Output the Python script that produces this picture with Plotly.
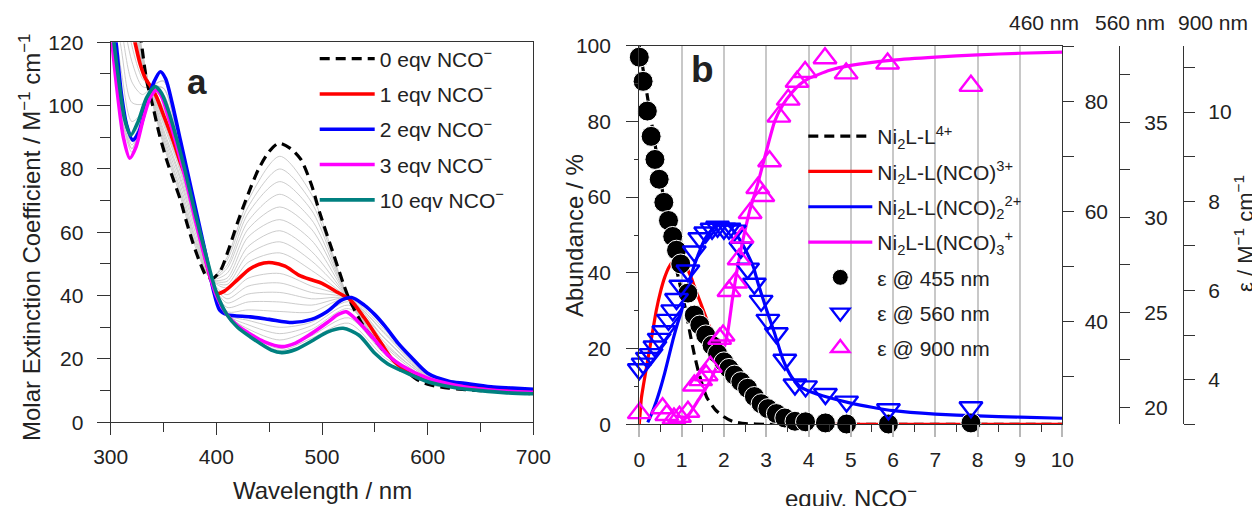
import plotly.graph_objects as go

W, H = 1252, 506
FONT = "Liberation Sans, Arial, sans-serif"

# ---------------- Panel a data: molar extinction spectra (wavelength nm, epsilon) ----------------
SPEC_0EQ = [(326, 128), (329, 120), (334, 108), (340, 99.7), (346, 91), (353, 82.8), (360, 76), (366, 70.2),
            (372, 63), (378, 56.5), (385, 50), (391, 46), (397, 45.5), (404, 48), (411, 54), (420, 63),
            (430, 72), (440, 80), (450, 85.5), (459, 88.1), (470, 86.5), (480, 83), (490, 75), (498, 66),
            (510, 54), (520, 44), (525, 39.5), (530, 36), (540, 30), (550, 26), (560, 22), (575, 17.5),
            (590, 13.5), (600, 12), (620, 10.8), (650, 10), (680, 9.5), (700, 9)]
SPEC_1EQ = [(318, 128), (323, 120), (328, 113), (333, 108.5), (338, 106), (343, 103), (350, 97), (359, 89),
            (366, 82), (372, 76.5), (380, 66), (388, 54), (395, 45), (401, 40.7), (408, 41.5), (420, 45),
            (432, 48.5), (445, 50.3), (453, 50.4), (465, 49.3), (478, 46.5), (490, 45), (500, 43.9),
            (515, 41), (527, 38.6), (540, 33), (555, 25.5), (567, 19.7), (585, 15), (601, 13.4),
            (625, 11.8), (650, 11), (675, 10.2), (700, 9.5)]
SPEC_2EQ = [(300, 133), (305, 120), (310, 104), (315, 94), (321, 89.1), (327, 92), (334, 100.5), (341, 107.5),
            (347, 110.7), (352, 108.5), (358, 101), (366, 89), (374, 77), (382, 65), (390, 53), (397, 42),
            (403, 35.5), (410, 34), (432, 33.3), (450, 32.5), (472, 31.5), (490, 32.5), (505, 35), (518, 38.5),
            (528, 39.4), (540, 37), (550, 34), (560, 30.2), (572, 25), (584, 20.7), (600, 15.5), (620, 13),
            (635, 12.3), (660, 11.2), (680, 10.8), (700, 10.4)]
SPEC_3EQ = [(300, 124), (306, 105), (312, 90), (318, 83.4), (324, 87), (331, 96), (338, 103), (343.5, 104.9),
            (348, 103), (355, 96), (362, 88), (370, 78), (380, 64), (390, 51), (400, 40), (410, 34),
            (420, 30.5), (430, 28.3), (445, 25.5), (462, 23.9), (475, 25), (490, 28), (505, 31.5), (515, 34),
            (523, 34.9), (535, 31.5), (550, 26), (563, 21), (575, 18), (600, 13.9), (625, 11.8), (650, 10.5),
            (675, 9.8), (700, 9.5)]
SPEC_10EQ = [(300, 128), (303, 120), (308, 107), (313, 96), (319, 90.7), (326, 95), (334, 102.5), (342, 106),
             (348, 104), (355, 98), (362, 90), (370, 80), (380, 66), (390, 53), (400, 41), (410, 34), (420, 30),
             (432, 27), (452, 22.8), (462, 22), (475, 23), (492, 26), (505, 28.5), (520, 29.7), (535, 27.5),
             (550, 21.8), (562, 18.5), (574, 16.5), (600, 12.8), (625, 11), (650, 10), (675, 9.3), (700, 9)]

# intermediate titration spectra (thin grey), read on a common wavelength grid
GRAY_WL = [300, 310, 320, 330, 340, 350, 365, 380, 395, 410, 430, 460, 490, 525, 560, 600, 650, 700]
GRAY_SPECTRA = [
    [169, 154, 137, 117, 100.2, 87.5, 72.3, 55.5, 45.5, 52, 70, 84, 72, 39.4, 22, 12.2, 10.1, 9.1],
    [168, 153, 136, 116.5, 100.8, 88.5, 73.5, 56.5, 45.5, 51, 68, 80, 69.5, 39.3, 22, 12.3, 10.2, 9.1],
    [167, 152, 134, 116, 101.3, 89.5, 74.5, 57.5, 45.5, 49.5, 66, 76, 67, 39.2, 22.1, 12.5, 10.3, 9.2],
    [166, 151, 133, 115, 101.8, 90.5, 76, 58.5, 45.3, 48.5, 63.5, 72, 64, 39.1, 22.1, 12.6, 10.4, 9.2],
    [165, 150, 132, 114.5, 102.3, 91.5, 77.5, 60, 45.3, 47, 61, 68, 61, 39.1, 22.2, 12.8, 10.5, 9.3],
    [164, 149, 130, 113.5, 102.8, 92.5, 78.5, 61.5, 45.2, 45.5, 58.5, 64, 57.5, 39, 22.3, 13, 10.6, 9.3],
    [163, 148, 129, 113, 103.3, 94, 80, 62.5, 45.2, 44.5, 55.5, 60.5, 54, 38.9, 22.3, 13.1, 10.7, 9.4],
    [162, 147, 127, 112, 103.8, 95, 81, 63.5, 45.1, 43.5, 53, 57, 51, 38.9, 22.4, 13.3, 10.8, 9.4],
    [161, 146, 126, 111.5, 104.3, 96, 82, 65, 45.1, 42.5, 50.5, 53.5, 48, 38.8, 22.4, 13.4, 10.9, 9.5],
    [155, 138, 119, 108.5, 105.3, 99, 84.5, 66.3, 45, 40.3, 45.5, 47, 43, 38.9, 23.8, 13.9, 11.1, 9.6],
    [151, 131, 114, 106, 105.5, 101, 85.5, 66.7, 45, 39, 43, 44, 41, 39, 25, 14.3, 11.2, 9.7],
    [147, 125, 107.5, 103.5, 105.8, 103.5, 86.5, 67, 45, 37.7, 40.5, 41, 39, 39, 26.3, 14.5, 11.3, 9.9],
    [142, 118, 101, 100.5, 106, 105.5, 88, 67.3, 45, 36.3, 38, 38, 37, 39.1, 27.7, 14.9, 11.4, 10.1],
    [137, 111, 95, 98, 106.3, 107.7, 89.3, 67.7, 45, 35, 35.5, 35, 34.8, 39.2, 29, 15.2, 11.5, 10.3],
    [131, 101.5, 87.6, 95.2, 105.8, 107.8, 88.5, 67, 45.1, 34, 32.2, 30, 31.6, 38.1, 28.2, 15.1, 11.3, 10.2],
    [128.5, 99.5, 86.5, 95, 105.2, 105.5, 87, 66, 45.3, 34, 30.8, 28, 30.5, 37, 26.3, 14.7, 11, 10],
    [126, 97, 85.3, 94.8, 104.6, 103.5, 85.8, 65, 45.4, 34, 29.5, 26, 29.3, 35.9, 24.3, 14.3, 10.8, 9.8],
    [125.3, 97.7, 86.3, 95.8, 104.5, 101.8, 85.2, 64.7, 46, 34, 28, 23.3, 27.3, 33, 21.3, 13.5, 10.3, 9.3],
    [126.7, 100.3, 88.7, 97.2, 105, 102.2, 85.8, 65.3, 46.5, 34, 27.7, 22.7, 26.5, 31.3, 20.3, 13.2, 10.2, 9.2],
]

SPEC_NAMES = ["0 eqv NCO<sup>−</sup>", "1 eqv NCO<sup>−</sup>", "2 eqv NCO<sup>−</sup>",
              "3 eqv NCO<sup>−</sup>", "10 eqv NCO<sup>−</sup>"]

# ---------------- Panel b data ----------------
# species distribution (abundance %) vs equivalents of NCO-
X_S0 = [0, 0.2, 0.4, 0.6, 0.8, 1.0, 1.1, 1.2, 1.3, 1.4, 1.5, 1.6, 1.8, 2.0, 2.2, 2.5, 3.0, 4.0, 6.0, 10.0]
S0 = [100, 86, 72, 58, 45, 35, 30, 24, 18.5, 13.8, 10, 7, 3.8, 2, 0.8, 0.2, 0, 0, 0, 0]
X_S1 = [0, 0.05, 0.1, 0.2, 0.3, 0.4, 0.5, 0.6, 0.7, 0.8, 0.9, 1.0, 1.1, 1.2, 1.3, 1.4, 1.5, 1.6, 1.8, 2.0,
        2.2, 2.5, 2.8, 3.0, 3.5, 4.0, 5.0, 6.0, 8.0, 10.0]
S1 = [0, 7, 10.5, 17, 23.5, 30, 35, 38.8, 41.5, 43, 43.5, 43.2, 41.8, 39.5, 36.5, 33.5, 30.5, 27.5, 22, 18,
      14, 9.5, 6, 4, 1.5, 0.5, 0, 0, 0, 0]
X_S2 = [0.2, 0.3, 0.4, 0.5, 0.6, 0.7, 0.8, 0.9, 1.0, 1.1, 1.2, 1.3, 1.4, 1.5, 1.6, 1.7, 1.8, 1.9, 2.0, 2.1,
        2.2, 2.3, 2.4, 2.5, 2.6, 2.7, 2.8, 2.9, 3.0, 3.2, 3.4, 3.6, 3.8, 4.0, 4.5, 5.0, 5.5, 6.0, 7.0, 8.0,
        9.0, 10.0]
S2 = [0.5, 3, 6, 9.5, 13.5, 18, 22.5, 26.5, 30, 35, 38.5, 42, 45, 47.8, 49.8, 51.2, 52.2, 52.8, 53, 52.6,
      51.5, 50, 48.3, 46.3, 44, 41.5, 37.5, 34, 30.5, 24, 17, 12.5, 10, 8.8, 7, 5.6, 4.5, 3.6, 2.7, 2.2,
      1.9, 1.6]
X_S3 = [1.0, 1.2, 1.4, 1.6, 1.8, 2.0, 2.1, 2.2, 2.3, 2.4, 2.6, 2.8, 3.0, 3.2, 3.4, 3.6, 3.8, 4.0, 4.5, 5.0,
        6.0, 7.0, 8.0, 9.0, 10.0]
S3 = [0.5, 3, 6.5, 10, 14.5, 20, 25, 33, 40, 46, 56, 63.5, 72, 80, 84.5, 87.5, 89.8, 91.3, 93.5, 94.8,
      96.2, 97, 97.6, 98, 98.3]
SPECIES_NAMES = ["Ni<sub>2</sub>L-L<sup>4+</sup>", "Ni<sub>2</sub>L-L(NCO)<sup>3+</sup>",
                 "Ni<sub>2</sub>L-L(NCO)<sub>2</sub><sup>2+</sup>", "Ni<sub>2</sub>L-L(NCO)<sub>3</sub><sup>+</sup>"]

# measured epsilon values at three wavelengths
EQUIV = [0, 0.09, 0.19, 0.28, 0.37, 0.47, 0.58, 0.69, 0.79, 0.88, 0.98, 1.15, 1.3, 1.43, 1.57, 1.72, 1.85,
         2.0, 2.12, 2.25, 2.4, 2.56, 2.72, 2.88, 3.04, 3.24, 3.44, 3.68, 3.93, 4.4, 4.9, 5.89, 7.84]
EPS_455 = [88.1, 83.7, 78.3, 73.7, 69.5, 65.9, 61.7, 58.4, 55.5, 53.0, 50.5, 45.2, 41.2, 39.4, 37.6, 35.7,
           34.2, 32.7, 31.5, 30.3, 29.1, 27.9, 26.4, 25.1, 24.2, 23.3, 22.5, 21.9, 21.8, 21.6, 21.4, 21.4, 21.6]
EPS_560 = [22.0, 22.3, 22.6, 22.8, 23.2, 23.6, 24.0, 24.6, 25.1, 25.7, 26.4, 27.2, 28.2, 28.9, 29.2, 29.4,
           29.5, 29.4, 29.4, 29.3, 28.4, 27.3, 26.5, 25.6, 24.6, 23.9, 22.5, 21.2, 21.1, 20.7, 20.3, 19.9, 20.0]
EQUIV_900 = [0.0, 0.55, 0.65, 0.82, 0.95, 1.15, 1.3, 1.45, 1.58, 1.68, 1.9, 1.98, 2.12, 2.28, 2.36, 2.43,
             2.62, 2.8, 2.92, 3.08, 3.3, 3.52, 3.73, 3.92, 4.39, 4.89, 5.87, 7.84]
EPS_900 = [3.25, 3.36, 3.21, 3.13, 3.17, 3.28, 3.87, 3.99, 4.10, 4.29, 4.92, 4.99, 5.99, 6.18, 6.70, 7.19,
           7.74, 8.30, 8.12, 8.90, 9.90, 10.28, 10.68, 10.90, 11.21, 10.87, 11.09, 10.59]
EPS_NAMES = ["ε @ 455 nm", "ε @ 560 nm", "ε @ 900 nm"]
RIGHT_AXIS_LABELS = ["460 nm", "560 nm", "900 nm"]

# ---------------- layout geometry (pixels) ----------------
A_L, A_R, A_T, A_B = 110.7, 533.3, 42.3, 422.3
B_L, B_R, B_T, B_B = 639.3, 1062.3, 45.7, 424.3
AX560_X, AX900_X = 1119.0, 1183.0

def fx(p):
    return p / W

def fy(p):
    return 1 - p / H

AXC = "#333333"
TXT = "#222222"

fig = go.Figure()

# ---- panel a traces ----
for spec in GRAY_SPECTRA:
    fig.add_trace(go.Scatter(x=GRAY_WL, y=spec, mode="lines", xaxis="x", yaxis="y",
                             line=dict(color="#c6c6c6", width=0.9, shape="spline", smoothing=0.8),
                             showlegend=False, hoverinfo="skip"))

spec_list = [SPEC_0EQ, SPEC_1EQ, SPEC_2EQ, SPEC_3EQ, SPEC_10EQ]
spec_colors = ["#000000", "#ff0000", "#0000ff", "#ff00ff", "#008080"]
for i, (spec, name, col) in enumerate(zip(spec_list, SPEC_NAMES, spec_colors)):
    wl = [p[0] for p in spec]
    ev = [p[1] for p in spec]
    fig.add_trace(go.Scatter(
        x=wl, y=ev, mode="lines", name=name, xaxis="x", yaxis="y", legend="legend",
        legendgroup="a%d" % i,
        line=dict(color=col, width=3.2 if i == 0 else 3.6, dash="10px,6px" if i == 0 else "solid",
                  shape="spline", smoothing=0.8)))

# ---- panel b traces ----
species = [(X_S0, S0, "#000000", "10px,6px"), (X_S1, S1, "#ff0000", "solid"),
           (X_S2, S2, "#0000ff", "solid"), (X_S3, S3, "#ff00ff", "solid")]
for i, ((xs, ys, col, dash), name) in enumerate(zip(species, SPECIES_NAMES)):
    fig.add_trace(go.Scatter(
        x=xs, y=ys, mode="lines", name=name, xaxis="x2", yaxis="y2", legend="legend2",
        legendgroup="b%d" % i,
        line=dict(color=col, width=3.2, dash=dash, shape="spline", smoothing=0.5)))

fig.add_trace(go.Scatter(
    x=EQUIV, y=EPS_455, mode="markers", name=EPS_NAMES[0], xaxis="x2", yaxis="y3", legend="legend2",
    legendgroup="b4", cliponaxis=False,
    marker=dict(symbol="circle", size=20, color="#000000", line=dict(color="white", width=1))))
fig.add_trace(go.Scatter(
    x=EQUIV, y=EPS_560, mode="markers", name=EPS_NAMES[1], xaxis="x2", yaxis="y4", legend="legend2",
    legendgroup="b5", cliponaxis=False,
    marker=dict(symbol="triangle-down-open", size=20, color="#0000ff", line=dict(color="#0000ff", width=2.4))))
fig.add_trace(go.Scatter(
    x=EQUIV_900, y=EPS_900, mode="markers", name=EPS_NAMES[2], xaxis="x2", yaxis="y5", legend="legend2",
    legendgroup="b6", cliponaxis=False,
    marker=dict(symbol="triangle-up-open", size=20, color="#ff00ff", line=dict(color="#ff00ff", width=2.4))))

tickfont = dict(family=FONT, size=21, color=TXT)

common = dict(showline=True, linecolor=AXC, linewidth=1.3, ticks="outside", tickcolor=AXC, tickwidth=1.3,
              zeroline=False, tickfont=tickfont, automargin=False, fixedrange=True)

def minor(dt, ln):
    return dict(dtick=dt, ticklen=ln, ticks="outside", tickcolor=AXC, tickwidth=1.3, showgrid=False)

fig.update_layout(
    width=W, height=H, margin=dict(l=0, r=0, t=0, b=0, pad=0),
    paper_bgcolor="white", plot_bgcolor="rgba(0,0,0,0)",
    font=dict(family=FONT, size=21, color=TXT), hovermode=False,
    xaxis=dict(domain=[fx(A_L), fx(A_R)], range=[300, 700], anchor="y", mirror=True, showgrid=False,
               tick0=300, dtick=100, ticklen=12, ticklabelstandoff=3, minor=minor(50, 9), **common),
    yaxis=dict(domain=[fy(A_B), fy(A_T)], range=[0, 120], anchor="x", mirror=True, showgrid=False,
               tick0=0, dtick=20, ticklen=13, ticklabelstandoff=9, minor=minor(10, 10), **common),
    xaxis2=dict(domain=[fx(B_L), fx(B_R)], range=[0, 10], anchor="y2", mirror=True,
                showgrid=True, gridcolor="#c8c8c8", gridwidth=1.6,
                tick0=0, dtick=1, ticklen=12, ticklabelstandoff=4, minor=minor(0.5, 7),
                **{**common, "tickcolor": "#b8b8b8", "tickwidth": 1.6}),
    yaxis2=dict(domain=[fy(B_B), fy(B_T)], range=[0, 100], anchor="x2", showgrid=False,
                tick0=0, dtick=20, ticklen=12, ticklabelstandoff=11, minor=minor(10, 4), **common),
    yaxis3=dict(overlaying="y2", anchor="x2", side="right", range=[21.35, 90.18], showgrid=False,
                tick0=0, dtick=20, ticklen=11, ticklabelstandoff=6, minor=minor(10, 11), **common),
    yaxis4=dict(overlaying="y2", anchor="free", position=fx(AX560_X), side="right", range=[19.105, 39.03],
                showgrid=False, tick0=0, dtick=5, ticklen=10, ticklabelstandoff=10, minor=minor(2.5, 10),
                **common),
    yaxis5=dict(overlaying="y2", anchor="free", position=fx(AX900_X), side="right", range=[3.0, 11.49],
                showgrid=False, tick0=0, dtick=2, ticklen=11, ticklabelstandoff=9, minor=minor(1, 11),
                **common),
    legend=dict(x=fx(314.7), y=fy(38.5), xanchor="left", yanchor="top", bgcolor="rgba(0,0,0,0)",
                font=dict(family=FONT, size=21, color=TXT), itemwidth=55, tracegroupgap=5,
                traceorder="grouped"),
    legend2=dict(x=fx(803.3), y=fy(116), xanchor="left", yanchor="top", bgcolor="rgba(0,0,0,0)",
                 font=dict(family=FONT, size=21, color=TXT), itemwidth=64, tracegroupgap=5,
                 traceorder="grouped"),
)

ann = []
def add_text(text, x, y, size=24, angle=0, bold=False, xanchor="center", yanchor="middle"):
    ann.append(dict(text=("<b>%s</b>" % text) if bold else text, x=fx(x), y=fy(y), xref="paper",
                    yref="paper", showarrow=False, textangle=angle, xanchor=xanchor, yanchor=yanchor,
                    font=dict(family=FONT, size=size, color=TXT)))

add_text("a", 197, 82, size=35, bold=True)
add_text("b", 702, 70, size=37, bold=True)
add_text("Wavelength / nm", (A_L + A_R) / 2, 490)
add_text("Molar Extinction Coefficient / M<sup>−1</sup> cm<sup>−1</sup>", 30, 238, angle=-90)
add_text("Abundance / %", 574, 236, angle=-90)
add_text("equiv. NCO<sup>−</sup>", (B_L + B_R) / 2, 497)
for lbl, cx in zip(RIGHT_AXIS_LABELS, [1044, 1130, 1213]):
    add_text(lbl, cx, 23, size=21)
add_text("ε / M<sup>−1</sup> cm<sup>−1</sup>", 1244, 234, angle=-90, size=22)
fig.update_layout(annotations=ann)

fig.write_html("out.html")
